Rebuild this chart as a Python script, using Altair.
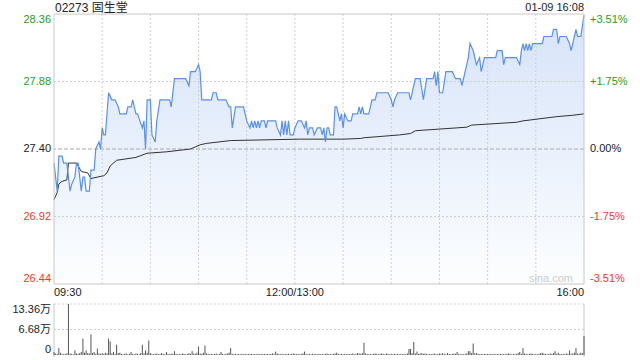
import altair as alt
import pandas as pd

TITLE = "02273 固生堂"
STAMP = "01-09 16:08"
PREV_CLOSE = 27.40
PRICE_LO, PRICE_HI = 26.44, 28.36
VOL_TOP = 13.36  # 万

# minute index from 09:30 (0) to 16:00 (330), lunch break removed
price_min = [0, 2, 3, 5, 6, 8, 10, 11, 13, 14,
             15, 17, 18, 19, 20, 22, 23, 25, 26, 28,
             29, 30, 31, 32, 34, 36, 38, 40, 41, 43,
             45, 46, 48, 49, 50, 51, 52, 55, 56, 57,
             58, 60, 61, 63, 64, 66, 72, 73, 75, 82,
             84, 85, 88, 90, 91, 92, 98, 99, 101, 102,
             107, 109, 110, 111, 113, 118, 120, 122, 123, 124,
             125, 126, 127, 128, 129, 131, 132, 133, 138, 139,
             141, 142, 143, 144, 145, 146, 147, 149, 150, 152,
             154, 156, 157, 158, 159, 161, 162, 164, 166, 167,
             168, 169, 170, 171, 172, 174, 175, 176, 178, 179,
             180, 181, 183, 184, 185, 186, 189, 190, 191, 192,
             193, 196, 198, 200, 201, 208, 210, 211, 212, 214,
             221, 222, 224, 225, 228, 230, 232, 236, 237, 238,
             239, 240, 242, 244, 248, 250, 253, 254, 255, 258,
             259, 261, 263, 265, 266, 268, 275, 276, 279, 280,
             281, 288, 290, 291, 292, 293, 294, 295, 296, 297,
             298, 304, 305, 310, 311, 313, 314, 315, 319, 321,
             322, 323, 325, 326, 328, 330]
price_val = [27.30, 27.10, 27.35, 27.35, 27.30, 27.30, 27.10, 27.15, 27.20, 27.30,
             27.30, 27.10, 27.20, 27.20, 27.10, 27.10, 27.25, 27.25, 27.40, 27.45,
             27.40, 27.55, 27.50, 27.50, 27.80, 27.75, 27.75, 27.70, 27.65, 27.65,
             27.65, 27.70, 27.70, 27.75, 27.70, 27.65, 27.65, 27.55, 27.60, 27.40,
             27.75, 27.75, 27.50, 27.45, 27.60, 27.75, 27.75, 27.70, 27.90, 27.90,
             27.85, 27.95, 27.95, 28.00, 27.95, 27.75, 27.75, 27.80, 27.80, 27.75,
             27.75, 27.70, 27.70, 27.55, 27.70, 27.70, 27.60, 27.55, 27.60, 27.55,
             27.60, 27.55, 27.60, 27.55, 27.60, 27.60, 27.55, 27.60, 27.60, 27.55,
             27.50, 27.60, 27.50, 27.60, 27.50, 27.60, 27.50, 27.50, 27.55, 27.60,
             27.60, 27.55, 27.60, 27.50, 27.55, 27.55, 27.50, 27.55, 27.55, 27.50,
             27.55, 27.45, 27.55, 27.55, 27.50, 27.50, 27.70, 27.70, 27.60, 27.65,
             27.55, 27.65, 27.60, 27.60, 27.60, 27.65, 27.65, 27.70, 27.65, 27.70,
             27.65, 27.65, 27.75, 27.75, 27.80, 27.80, 27.75, 27.70, 27.75, 27.80,
             27.80, 27.75, 27.85, 27.90, 27.90, 27.75, 27.90, 27.90, 27.95, 27.85,
             27.95, 27.80, 27.80, 27.95, 27.95, 27.90, 27.90, 27.85, 27.90, 28.05,
             28.15, 28.10, 28.00, 28.05, 27.95, 28.05, 28.05, 28.10, 28.10, 28.00,
             28.05, 28.05, 28.00, 28.10, 28.15, 28.10, 28.15, 28.10, 28.15, 28.10,
             28.15, 28.15, 28.20, 28.20, 28.25, 28.25, 28.15, 28.20, 28.20, 28.15,
             28.10, 28.15, 28.25, 28.20, 28.20, 28.35]

avg_min = [0, 2, 3, 5, 8, 9, 14, 17, 21, 23, 31, 33, 35, 39, 51, 58, 70, 85,
           91, 95, 110, 153, 180, 191, 193, 215, 222, 225, 257, 260, 288, 292,
           313, 323, 330]
avg_val = [27.04, 27.09, 27.15, 27.17, 27.18, 27.30, 27.30, 27.24, 27.23, 27.19,
           27.21, 27.23, 27.28, 27.32, 27.34, 27.37, 27.38, 27.40, 27.43, 27.44,
           27.46, 27.47, 27.47, 27.475, 27.48, 27.50, 27.51, 27.53, 27.555, 27.57,
           27.59, 27.60, 27.63, 27.64, 27.65]

# volume per minute, in 万 shares
vol_0930 = [0.8, 0.4, 0.3, 1.8, 0.6, 0.3, 0.2, 0.3, 0.4, 13.36, 0.4, 0.3, 0.2, 1.2, 0.4,
            0.3, 0.5, 0.8, 4.3, 0.6, 1.2, 0.5, 0.4, 5.4, 0.5, 0.8, 0.3, 1.7, 0.4, 0.3]
vol_1000 = [0.5, 0.3, 0.6, 0.4, 4.3, 3.5, 0.4, 0.8, 0.3, 2.7, 0.5, 0.6, 0.3, 0.2, 0.3,
            0.4, 0.2, 0.3, 0.8, 0.3, 0.2, 0.4, 0.3, 0.2, 0.5, 2.7, 0.4, 1.2, 0.6, 3.8]
vol_1030 = [0.5, 0.3, 0.2, 0.3, 0.4, 0.2, 0.3, 0.5, 0.3, 0.2, 0.8, 0.3, 0.2, 0.4, 0.3,
            1.0, 0.3, 0.2, 0.3, 0.2, 0.4, 0.3, 0.2, 0.3, 0.5, 0.3, 1.0, 0.4, 0.3, 0.6]
vol_1100 = [2.2, 0.4, 0.3, 0.6, 2.5, 0.4, 0.3, 0.2, 0.3, 0.2, 0.3, 0.4, 0.2, 0.3, 0.8,
            0.3, 0.2, 0.3, 0.4, 0.6, 1.8, 0.3, 0.2, 0.3, 0.2, 0.3, 0.2, 0.3, 0.2, 0.3]
vol_1130 = [0.2, 0.3, 0.2, 0.3, 0.2, 0.3, 0.2, 0.3, 0.2, 0.3, 0.2, 0.3, 0.2, 0.3, 0.2,
            0.3, 0.4, 0.3, 0.9, 0.4, 0.3, 0.2, 0.3, 0.2, 0.3, 0.2, 0.3, 0.2, 0.3, 0.4]
vol_1300 = [0.3, 0.2, 0.3, 0.2, 0.3, 0.4, 0.9, 0.3, 0.2, 0.3, 0.2, 0.3, 0.2, 0.3, 0.2,
            0.3, 0.2, 0.3, 0.2, 0.3, 0.4, 0.2, 0.3, 0.2, 0.3, 0.4, 0.6, 0.3, 0.2, 0.3]
vol_1330 = [0.2, 0.3, 0.2, 0.3, 0.2, 0.3, 0.4, 0.2, 0.3, 0.5, 0.4, 0.3, 0.5, 3.2, 0.4,
            0.3, 0.2, 0.3, 0.2, 0.3, 0.4, 0.3, 0.2, 0.3, 0.4, 0.3, 0.2, 0.4, 0.3, 0.2]
vol_1400 = [0.3, 0.2, 0.3, 0.2, 0.3, 0.2, 0.3, 0.2, 0.3, 0.2, 0.4, 1.6, 1.6, 0.5, 3.4,
            0.4, 0.9, 0.3, 0.4, 0.5, 0.3, 0.4, 0.3, 0.2, 0.3, 0.2, 0.3, 0.4, 0.2, 0.3]
vol_1430 = [0.4, 0.3, 0.5, 0.3, 0.2, 0.5, 0.3, 0.2, 0.3, 0.4, 0.3, 0.8, 0.3, 0.2, 0.3,
            0.2, 0.3, 0.4, 1.0, 1.0, 0.5, 3.0, 0.4, 0.5, 0.3, 0.2, 0.3, 0.2, 0.3, 0.2]
vol_1500 = [0.3, 0.2, 0.3, 0.2, 0.3, 0.2, 0.3, 0.2, 0.3, 0.2, 0.3, 0.2, 0.3, 0.4, 0.3,
            0.2, 0.3, 0.2, 0.3, 0.5, 0.8, 0.3, 1.8, 0.4, 0.3, 0.2, 0.3, 0.4, 0.3, 0.2]
vol_1530 = [0.3, 0.2, 0.3, 0.5, 0.6, 0.4, 0.3, 0.2, 0.3, 0.4, 0.3, 0.5, 1.0, 0.3, 0.6,
            0.3, 0.2, 0.3, 0.2, 0.4, 0.3, 1.2, 0.3, 0.4, 0.6, 1.8, 0.4, 0.3, 0.6, 0.5,
            5.0]

left_ticks = [28.36, 27.88, 27.40, 26.92, 26.44]
left_texts = ["28.36", "27.88", "27.40", "26.92", "26.44"]
right_texts = ["+3.51%", "+1.75%", "0.00%", "-1.75%", "-3.51%"]
tick_place = ["top", "middle", "middle", "middle", "bottom"]
price_grid = [27.88, 26.92]
time_grid = [30, 60, 90, 120, 150, 180, 210, 240, 270, 300]
time_labels = ["09:30", "12:00/13:00", "16:00"]
time_pos = [0, 150, 330]
time_align = ["left", "center", "right"]
vol_ticks = [13.36, 6.68, 0]
vol_texts = ["13.36万", "6.68万", "0"]
vol_place = ["top", "middle", "bottom"]

GREEN, RED, DARK = "#1e9e1e", "#f0392b", "#222222"
LINE_BLUE, AVG_COL = "#5990ec", "#333333"
GRID = "#cfcfcf"
FONT = "Liberation Sans, Noto Sans CJK SC, sans-serif"

W, H_MAIN, H_ALL = 530, 270, 341

vols = vol_0930 + vol_1000 + vol_1030 + vol_1100 + vol_1130 + vol_1300 + \
    vol_1330 + vol_1400 + vol_1430 + vol_1500 + vol_1530

price_df = pd.DataFrame({"m": price_min, "p": price_val})
avg_df = pd.DataFrame({"m": avg_min, "p": avg_val})
vol_df = pd.DataFrame({"m": list(range(len(vols))), "v": vols})


def tick_color(p):
    if p > PREV_CLOSE + 1e-9:
        return GREEN
    if p < PREV_CLOSE - 1e-9:
        return RED
    return DARK


lab_df = pd.DataFrame({
    "p": left_ticks, "lt": left_texts, "rt": right_texts,
    "c": [tick_color(p) for p in left_ticks], "place": tick_place,
})
vlab_df = pd.DataFrame({"v": vol_ticks, "t": vol_texts, "place": vol_place})

XS = alt.Scale(domain=[0, 330], nice=False, zero=False)
YP = alt.Scale(domain=[PRICE_LO, PRICE_HI], range=[H_MAIN, 0], nice=False, zero=False)
YV = alt.Scale(domain=[0, VOL_TOP], range=[H_ALL, H_ALL - 51], nice=False, zero=True)

gradient = alt.Gradient(
    gradient="linear",
    stops=[alt.GradientStop(color="#d6e3f9", offset=0),
           alt.GradientStop(color="#fdfeff", offset=1)],
    x1=1, x2=1, y1=0, y2=1,
)

area = alt.Chart(price_df).mark_area(color=gradient, interpolate="linear").encode(
    x=alt.X("m:Q", scale=XS, axis=None),
    y=alt.Y("p:Q", scale=YP, axis=None),
    y2=alt.datum(PRICE_LO),
)

hgrid = alt.Chart(pd.DataFrame({"p": price_grid})).mark_rule(
    color=GRID, strokeDash=[2, 2], strokeWidth=1
).encode(y=alt.Y("p:Q", scale=YP, axis=None))

vgrid = alt.Chart(pd.DataFrame({"m": time_grid})).mark_rule(
    color=GRID, strokeDash=[2, 2], strokeWidth=1
).encode(x=alt.X("m:Q", scale=XS, axis=None), y=alt.value(0), y2=alt.value(H_MAIN))

prev_rule = alt.Chart(pd.DataFrame({"p": [PREV_CLOSE]})).mark_rule(
    color="#a8a8a8", strokeDash=[4, 2], strokeWidth=1
).encode(y=alt.Y("p:Q", scale=YP, axis=None))

avg_line = alt.Chart(avg_df).mark_line(color=AVG_COL, strokeWidth=1).encode(
    x=alt.X("m:Q", scale=XS, axis=None),
    y=alt.Y("p:Q", scale=YP, axis=None),
)

price_line = alt.Chart(price_df).mark_line(color=LINE_BLUE, strokeWidth=1.2).encode(
    x=alt.X("m:Q", scale=XS, axis=None),
    y=alt.Y("p:Q", scale=YP, axis=None),
)

border = alt.Chart(pd.DataFrame({"k": [0]})).mark_rect(
    fill=None, stroke="#c8c8c8", strokeWidth=1
).encode(x=alt.value(0), x2=alt.value(W), y=alt.value(0), y2=alt.value(H_MAIN))

vgrid_vol = alt.Chart(pd.DataFrame({"v": [13.36, 6.68]})).mark_rule(
    color=GRID, strokeDash=[2, 2], strokeWidth=1
).encode(y=alt.Y("v:Q", scale=YV, axis=None))

vol_sides = alt.Chart(pd.DataFrame({"x": [0, W]})).mark_rule(
    color="#c8c8c8", strokeWidth=1
).encode(x=alt.X("x:Q", scale=None, axis=None), y=alt.value(H_ALL - 51), y2=alt.value(H_ALL + 2))

vol_bars = alt.Chart(vol_df).mark_rule(color="#555555", strokeWidth=1).encode(
    x=alt.X("m:Q", scale=XS, axis=None),
    y=alt.Y("v:Q", scale=YV, axis=None),
    y2=alt.datum(0),
)

layers = [area, hgrid, vgrid, prev_rule, avg_line, price_line, border,
          vgrid_vol, vol_sides, vol_bars]

for place in ["top", "middle", "bottom"]:
    sub = lab_df[lab_df["place"] == place]
    layers.append(alt.Chart(sub).mark_text(
        align="right", baseline=place, font=FONT, fontSize=11
    ).encode(x=alt.value(-3), y=alt.Y("p:Q", scale=YP, axis=None),
             text="lt:N", color=alt.Color("c:N", scale=None)))
    layers.append(alt.Chart(sub).mark_text(
        align="left", baseline=place, font=FONT, fontSize=11
    ).encode(x=alt.value(W + 6), y=alt.Y("p:Q", scale=YP, axis=None),
             text="rt:N", color=alt.Color("c:N", scale=None)))
    vsub = vlab_df[vlab_df["place"] == place]
    layers.append(alt.Chart(vsub).mark_text(
        align="right", baseline=place, font=FONT, fontSize=11, color=DARK
    ).encode(x=alt.value(-3), y=alt.Y("v:Q", scale=YV, axis=None), text="t:N"))

for lab, pos, al in zip(time_labels, time_pos, time_align):
    layers.append(alt.Chart(pd.DataFrame({"m": [pos], "t": [lab]})).mark_text(
        align=al, baseline="middle", font=FONT, fontSize=11, color=DARK
    ).encode(x=alt.X("m:Q", scale=XS, axis=None), y=alt.value(H_MAIN + 9), text="t:N"))

layers.append(alt.Chart(pd.DataFrame({"t": [TITLE]})).mark_text(
    align="left", baseline="middle", font=FONT, fontSize=12, color=DARK
).encode(x=alt.value(1), y=alt.value(-6), text="t:N"))

layers.append(alt.Chart(pd.DataFrame({"t": [STAMP]})).mark_text(
    align="right", baseline="middle", font=FONT, fontSize=11, color=DARK
).encode(x=alt.value(W), y=alt.value(-6), text="t:N"))

layers.append(alt.Chart(pd.DataFrame({"t": ["sina.com"]})).mark_text(
    align="right", baseline="middle", font=FONT, fontSize=11, color="#cccccc"
).encode(x=alt.value(W - 11), y=alt.value(H_MAIN - 5), text="t:N"))

chart = alt.layer(*layers).resolve_scale(y="independent").properties(
    width=W, height=H_ALL,
    autosize=alt.AutoSizeParams(type="none"),
    padding={"left": 54, "top": 14, "right": 56, "bottom": 5},
    background="white",
).configure_view(stroke=None)

chart.save("out.html", embed_options={"renderer": "svg", "actions": False})
